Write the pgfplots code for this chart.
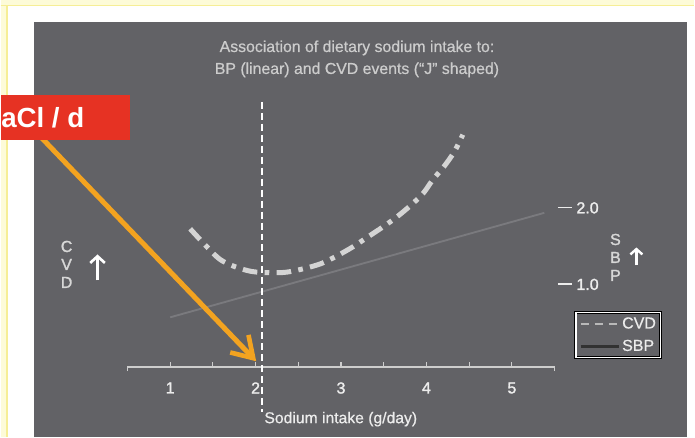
\documentclass[border=0pt]{standalone}
\usepackage{pgfplots}
\pgfplotsset{compat=1.18}
\usepackage{fontspec}
\setmainfont{Liberation Sans}
\newfontfamily\medfont{Liberation Sans}[FakeBold=1.6]
\newfontfamily\lightmed{Liberation Sans}[FakeBold=0.6]
\usetikzlibrary{arrows.meta}
\definecolor{panel}{RGB}{98,98,102}
\definecolor{paleyel}{RGB}{253,251,216}
\definecolor{yelline}{RGB}{246,238,150}
\definecolor{axisgray}{RGB}{205,205,205}
\definecolor{ticklab}{RGB}{236,236,236}
\definecolor{titlecol}{RGB}{204,204,204}
\definecolor{sidecol}{RGB}{215,215,215}
\definecolor{cvdcol}{RGB}{212,212,212}
\definecolor{sbpcol}{RGB}{122,122,126}
\definecolor{cvdleg}{RGB}{185,185,185}
\definecolor{sbpleg}{RGB}{50,50,50}
\definecolor{redbox}{RGB}{230,50,35}
\definecolor{orangearr}{RGB}{243,163,32}
\begin{document}
\begin{tikzpicture}
\begin{scope}[x=0.75pt,y=-0.75pt]
  \fill[white] (0,0) rectangle (695,438);
  \fill[paleyel] (0,0) rectangle (695,5);
  \fill[paleyel] (0,0) rectangle (6,438);
  \draw[yelline, line width=1.1pt] (0,5.5) -- (695,5.5);
  \draw[yelline, line width=1.1pt] (6.5,5.5) -- (6.5,438);
  \fill[panel] (33,22) rectangle (688,438);
  % title
  \node[text=titlecol, font=\lightmed\fontsize{11.9}{13}\selectfont] at (357,48) {Association of dietary sodium intake to:};
  \node[text=titlecol, font=\lightmed\fontsize{11.9}{13}\selectfont] at (357,70) {BP (linear) and CVD events (“J” shaped)};
  % x label
  \node[anchor=west, inner sep=0pt, text=ticklab, font=\lightmed\fontsize{11.8}{13}\selectfont] at (264,420) {Sodium intake (g/day)};
  % CVD side label
  \foreach \l/\yy in {C/247,V/265,D/283}{
    \node[text=sidecol, font=\medfont\fontsize{12}{13}\selectfont] at (66,\yy) {\l};
  }
  \draw[white, line width=2pt, -{Straight Barb[length=5pt,width=11pt,line width=2pt]}] (97,281) -- (97,255);
  % SBP side label
  \foreach \l/\yy in {S/240,B/258,P/276}{
    \node[text=sidecol, font=\medfont\fontsize{12}{13}\selectfont] at (616,\yy) {\l};
  }
  \draw[white, line width=1.8pt, -{Straight Barb[length=4pt,width=9pt,line width=1.8pt]}] (637,266) -- (637,248);
\end{scope}

\begin{axis}[
  at={(95.25pt,-276pt)}, anchor=south west,
  scale only axis, width=321pt, height=201pt,
  xmin=0.5, xmax=5.5, ymin=-0.082, ymax=3.412,
  clip=false,
  axis x line=bottom, axis y line=right,
  x axis line style={-, draw=axisgray, line width=1.1pt},
  y axis line style={draw=none},
  xtick={1,2,3,4,5},
  minor xtick={1.5,2.5,3.5,4.5},
  extra x ticks={0.5,5.5}, extra x tick labels={},
  extra x tick style={tick align=outside, major tick length=3pt},
  tick align=inside,
  major tick length=3.75pt, minor tick length=3.75pt,
  xtick style={draw=axisgray, line width=0.9pt},
  /pgf/number format/assume math mode=true,
  xticklabel style={text=ticklab, font=\medfont\fontsize{12}{13}\selectfont, inner sep=0pt, yshift=-11.2pt},
  ytick={1,2},
  yticklabels={{\rule[0.33em]{10.5pt}{1pt}\hspace{3.5pt}1.0},{\rule[0.33em]{10.5pt}{1pt}\hspace{3.5pt}2.0}},
  ytick style={draw=none},
  yticklabel style={anchor=west, inner sep=0pt, xshift=2.25pt, text=ticklab, font=\medfont\fontsize{12}{13}\selectfont},
  legend style={at={(1.049,0.205)}, anchor=north west, fill=panel, draw=black, double=white, double distance=1.2pt,
    inner sep=2.5pt, text=ticklab, font=\lightmed\fontsize{12}{13}\selectfont, row sep=5pt,
    nodes={inner sep=1pt},
    /tikz/every even column/.append style={column sep=0pt}},
  legend cell align=left,
  legend image code/.code={\draw[#1] (0pt,0pt) -- (29pt,0pt);},
]
% SBP (linear)
\addplot[draw=sbpcol, line width=1.4pt, forget plot] coordinates {(1.0,0.570) (5.38,1.935)};
% CVD (J shaped)
\addplot[draw=cvdcol, line width=3.75pt, smooth, dash pattern=on 11pt off 5.5pt on 3.5pt off 5.5pt, forget plot] coordinates {
(1.234,1.726) (1.429,1.492) (1.584,1.326) (1.759,1.231) (1.954,1.169)
(2.168,1.153) (2.363,1.160) (2.577,1.209) (2.772,1.274) (2.947,1.369)
(3.141,1.492) (3.317,1.622) (3.492,1.752) (3.648,1.877) (3.804,2.021)
(3.959,2.186) (4.076,2.369) (4.213,2.551) (4.329,2.738) (4.426,2.956)};
% reference line
\addplot[draw=white, line width=1.4pt, dash pattern=on 5.25pt off 3pt, forget plot] coordinates {(2.076,3.386) (2.076,-0.669)};
\addlegendimage{draw=cvdleg, line width=1.8pt, dash pattern=on 6pt off 4.5pt}
\addlegendentry{CVD}
\addlegendimage{draw=sbpleg, line width=2.4pt}
\addlegendentry{SBP}
\end{axis}

\begin{scope}[x=0.75pt,y=-0.75pt]
  \draw[orangearr, line width=3.75pt, -{Straight Barb[length=15pt,width=19pt,line width=3.5pt]}] (36,133) -- (256,362);
  \fill[redbox] (0,95) rectangle (130,140);
  \node[anchor=east, inner sep=0pt, text=white, font=\bfseries\fontsize{20.8}{22}\selectfont] at (84,117.5) {aCl / d};
\end{scope}
\end{tikzpicture}
\end{document}
